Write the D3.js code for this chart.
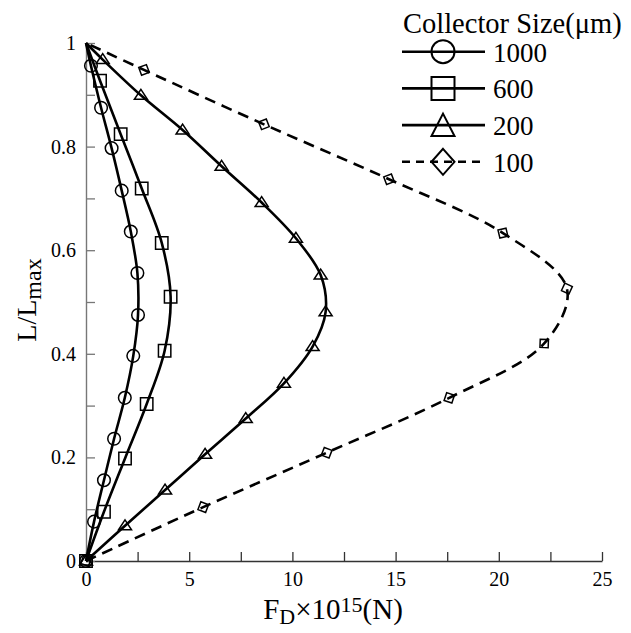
<!DOCTYPE html>
<html><head><meta charset="utf-8">
<script src="https://cdn.jsdelivr.net/npm/d3@7"></script>
<style>
html,body{margin:0;padding:0;background:#fff;}
svg{display:block;}
svg text{font-family:"Liberation Serif","Times New Roman",serif !important;}
</style></head>
<body>
<svg id="chart" width="631" height="633"></svg>
<script>
// ---- data ----
const seriesNames = ["1000", "600", "200", "100"];
const seriesSymbols = ["circle", "square", "triangle", "diamond"];
const seriesDashed = [false, false, false, true];

const L1000 = [0, 0.076, 0.156, 0.236, 0.315, 0.396, 0.475, 0.556, 0.636, 0.715, 0.797, 0.875, 0.956, 1];
const F1000 = [0, 0.39, 0.87, 1.36, 1.88, 2.29, 2.52, 2.49, 2.17, 1.73, 1.24, 0.73, 0.24, 0];

const L600 = [0, 0.095, 0.198, 0.303, 0.406, 0.510, 0.614, 0.719, 0.824, 0.927, 1];
const F600 = [0, 0.87, 1.89, 2.94, 3.81, 4.10, 3.67, 2.70, 1.68, 0.68, 0];

const L200 = [0, 0.068, 0.137, 0.206, 0.275, 0.343, 0.414, 0.481, 0.552, 0.623, 0.692, 0.762, 0.832, 0.899, 0.968, 1];
const F200 = [0, 1.89, 3.83, 5.77, 7.74, 9.59, 10.98, 11.61, 11.37, 10.17, 8.51, 6.57, 4.68, 2.66, 0.81, 0];

const L100 = [0, 0.104, 0.209, 0.315, 0.420, 0.526, 0.633, 0.737, 0.843, 0.948, 1];
const F100 = [0, 5.68, 11.66, 17.6, 22.2, 23.3, 20.2, 14.68, 8.62, 2.81, 0];

const xTicks = [0, 2.5, 5, 7.5, 10, 12.5, 15, 17.5, 20, 22.5, 25];
const xTickLabels = ["0", "", "5", "", "10", "", "15", "", "20", "", "25"];
const yTicks = [0, 0.1, 0.2, 0.3, 0.4, 0.5, 0.6, 0.7, 0.8, 0.9, 1];
const yTickLabels = ["0", "", "0.2", "", "0.4", "", "0.6", "", "0.8", "", "1"];

const legendTitle = "Collector Size(\u03bcm)";

const seriesL = [L1000, L600, L200, L100];
const seriesF = [F1000, F600, F200, F100];

// ---- chart ----
const FONT = '"Liberation Serif","Times New Roman",serif';
const svg = d3.select("#chart");
const x = d3.scaleLinear().domain([0, 25]).range([86, 602]);
const y = d3.scaleLinear().domain([0, 1]).range([561, 43]);

// axes
const xAxis = d3.axisBottom(x).tickValues(xTicks)
  .tickFormat((d, i) => xTickLabels[i]).tickSizeInner(-9).tickSizeOuter(0).tickPadding(11);
const gx = svg.append("g").attr("transform", `translate(0,${y(0)})`).call(xAxis)
  .attr("font-family", null).attr("font-size", null);
gx.select(".domain").attr("stroke", "#333").attr("stroke-width", 1.6);
gx.selectAll(".tick line").attr("stroke", "#333").attr("stroke-width", 1.3);
gx.selectAll(".tick text").style("font-size", "20px").style("font-family", FONT).attr("fill", "#000");

const yAxis = d3.axisLeft(y).tickValues(yTicks)
  .tickFormat((d, i) => yTickLabels[i]).tickSizeInner(-9).tickSizeOuter(0).tickPadding(10);
const gy = svg.append("g").attr("transform", `translate(${x(0)},0)`).call(yAxis)
  .attr("font-family", null).attr("font-size", null);
gy.select(".domain").attr("stroke", "#777").attr("stroke-width", 1.4);
gy.selectAll(".tick line").attr("stroke", "#777").attr("stroke-width", 1.3);
gy.selectAll(".tick text").style("font-size", "20px").style("font-family", FONT).attr("fill", "#000");

// symbol paths
function symbolPath(type, size, angle) {
  const s = size;
  if (type === "circle") return d3.symbol(d3.symbolCircle, Math.PI * s * s)();
  if (type === "square") return `M${-s},${-s}H${s}V${s}H${-s}Z`;
  if (type === "triangle") {
    const h = s * 1.6, w = s * 1.05;
    return `M0,${-h * 0.6}L${w},${h * 0.4}L${-w},${h * 0.4}Z`;
  }
  if (type === "diamond") {
    const a = angle || 0;
    const pts = [0, 1, 2, 3].map(k => {
      const t = a + k * Math.PI / 2;
      return [s * Math.cos(t), s * Math.sin(t)];
    });
    return "M" + pts.map(p => p[0].toFixed(2) + "," + p[1].toFixed(2)).join("L") + "Z";
  }
}

const line = d3.line().x(d => x(d[0])).y(d => y(d[1])).curve(d3.curveCatmullRom.alpha(0.5));

seriesNames.forEach((name, si) => {
  const pts = seriesL[si].map((l, i) => [seriesF[si][i], l]);
  svg.append("path").datum(pts)
    .attr("d", line)
    .attr("fill", "none").attr("stroke", "#000").attr("stroke-width", 2.6)
    .attr("stroke-dasharray", seriesDashed[si] ? "11,7" : null);

  const g = svg.append("g");
  pts.forEach((p, i) => {
    if (p[1] >= 1) return;
    const sym = seriesSymbols[si];
    let ang = 0;
    if (sym === "diamond") {
      const a = pts[Math.max(0, i - 1)], b = pts[Math.min(pts.length - 1, i + 1)];
      ang = Math.atan2(y(b[1]) - y(a[1]), x(b[0]) - x(a[0]));
    }
    const size = sym === "circle" ? 6.3 : sym === "square" ? 6.2 : sym === "triangle" ? 6.2 : 5.8;
    g.append("path")
      .attr("d", symbolPath(sym, size, ang))
      .attr("transform", `translate(${x(p[0])},${y(p[1])})`)
      .attr("fill", "none").attr("stroke", "#000").attr("stroke-width", 1.5);
  });
});

// axis titles
const xt = svg.append("text").attr("x", 333).attr("y", 619).attr("text-anchor", "middle")
  .style("font-size", "29px").style("font-family", FONT).attr("fill", "#000");
xt.append("tspan").text("F");
xt.append("tspan").attr("dy", 5).style("font-size", "22px").text("D");
xt.append("tspan").attr("dy", -5).text("\u00d710");
xt.append("tspan").attr("dy", -7).style("font-size", "22px").text("15");
xt.append("tspan").attr("dy", 7).text("(N)");

const yt = svg.append("text").attr("transform", "translate(36,300) rotate(-90)")
  .attr("text-anchor", "middle").style("font-size", "28px").style("font-family", FONT).attr("fill", "#000");
yt.append("tspan").text("L/L");
yt.append("tspan").attr("dy", 5).style("font-size", "24px").text("max");

// legend
const lg = svg.append("g");
lg.append("text").attr("x", 403).attr("y", 33).style("font-size", "28.5px").style("font-family", FONT)
  .attr("fill", "#000").text(legendTitle);
seriesNames.forEach((name, si) => {
  const ly = 51.7 + si * 36.7;
  lg.append("line").attr("x1", 402).attr("x2", 485).attr("y1", ly).attr("y2", ly)
    .attr("stroke", "#000").attr("stroke-width", 2.6)
    .attr("stroke-dasharray", seriesDashed[si] ? "8,6" : null);
  const sym = seriesSymbols[si];
  let d;
  if (sym === "diamond") d = `M0,-13L11.5,0L0,13L-11.5,0Z`;
  else if (sym === "triangle") d = `M0,-11.5L11.5,11L-11.5,11Z`;
  else d = symbolPath(sym, 11.5, 0);
  lg.append("path").attr("d", d).attr("transform", `translate(443,${ly})`)
    .attr("fill", "none").attr("stroke", "#000").attr("stroke-width", 2);
  lg.append("text").attr("x", 493).attr("y", ly + 10).style("font-size", "27px").style("font-family", FONT)
    .attr("fill", "#000").text(name);
});
</script>
</body></html>
